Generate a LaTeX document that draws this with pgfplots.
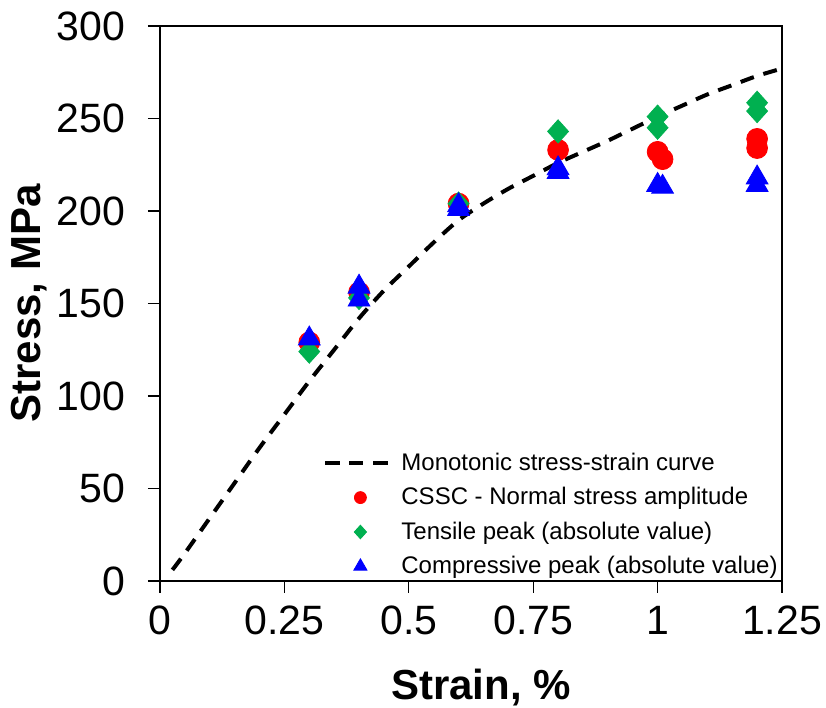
\documentclass[border=0pt]{standalone}
\usepackage{pgfplots}
\pgfplotsset{compat=1.18}
\usepackage{fontspec}
\setmainfont{Liberation Sans}
\definecolor{cred}{RGB}{255,0,0}
\definecolor{cgreen}{RGB}{0,176,80}
\definecolor{cblue}{RGB}{0,0,255}
\begin{document}
\begin{tikzpicture}
\begin{axis}[
  scale only axis,
  width=311pt, height=277.5pt,
  xmin=0, xmax=1.25, ymin=0, ymax=300,
  xtick={0,0.25,0.5,0.75,1,1.25},
  xticklabels={0,0.25,0.5,0.75,1,1.25},
  ytick={0,50,...,300},
  tick align=outside,
  xtick pos=bottom, ytick pos=left,
  major tick length=6pt,
  axis line style={line width=0.8pt},
  tick style={line width=0.6pt, black},
  /pgf/number format/assume math mode=true,
  tick label style={font=\fontsize{20.5}{24}\selectfont},
  xticklabel style={yshift=-3pt},
  yticklabel style={xshift=-8pt},
  xlabel={\textbf{Strain, \%}},
  ylabel={\textbf{Stress, MPa}},
  label style={font=\fontsize{21}{25}\selectfont},
  xlabel style={yshift=-10pt, xshift=5pt},
  ylabel style={yshift=-2pt},
  legend style={at={(1,0)}, anchor=south east, draw=none, fill=none,
    font=\fontsize{12}{14}\selectfont, row sep=3pt, inner sep=2pt,
    xshift=2pt, yshift=-2pt},
  legend cell align=left,
  legend image code/.code={\draw[mark repeat=2,mark phase=2,#1] plot coordinates {(0pt,0pt) (17.5pt,0pt) (35pt,0pt)};},
]
\addplot[black, line width=2pt, dash pattern=on 7pt off 5pt, no marks, smooth] coordinates {
(0.025,6) (0.05,15) (0.1,34) (0.15,53) (0.2,72) (0.25,90) (0.3,108) (0.35,125)
(0.4,142) (0.45,157) (0.5,170) (0.55,183) (0.6,195) (0.65,204) (0.7,212)
(0.75,219) (0.8,226) (0.85,232) (0.9,238) (0.95,244.5) (1.0,251) (1.05,257)
(1.1,263) (1.15,268) (1.2,273) (1.25,277)};
\addlegendentry{Monotonic stress-strain curve}
\addplot[only marks, mark=*, mark size=5.2pt, color=cred, mark options={draw=cred, fill=cred},
  legend image post style={mark size=3pt}] coordinates {
(0.3,129) (0.4,156) (0.6,204) (0.8,233) (1.0,232) (1.01,228) (1.2,239) (1.2,234)};
\addlegendentry{CSSC - Normal stress amplitude}
\addplot[only marks, mark=diamond*, mark size=5.8pt, color=cgreen, mark options={draw=cgreen, fill=cgreen, xscale=1.2},
  legend image post style={mark size=3.4pt}] coordinates {
(0.3,124) (0.4,153) (0.6,204) (0.8,243) (1.0,251) (1.0,245) (1.2,258.5) (1.2,254)};
\addlegendentry{Tensile peak (absolute value)}
\addplot[only marks, mark=triangle*, mark size=6.3pt, color=cblue, mark options={draw=cblue, fill=cblue},
  legend image post style={mark size=3.8pt}] coordinates {
(0.3,131) (0.4,159) (0.4,152) (0.6,203) (0.6,201) (0.8,223) (0.8,221) (1.0,214) (1.01,213) (1.2,218) (1.2,214)};
\addlegendentry{Compressive peak (absolute value)}
\coordinate (bl) at (rel axis cs:0,0);
\coordinate (tr) at (rel axis cs:1,1);
\end{axis}
\pgfresetboundingbox
\path[use as bounding box] ([xshift=-80pt,yshift=-63.5pt]bl) rectangle ([xshift=22pt,yshift=13pt]tr);
\end{tikzpicture}
\end{document}
